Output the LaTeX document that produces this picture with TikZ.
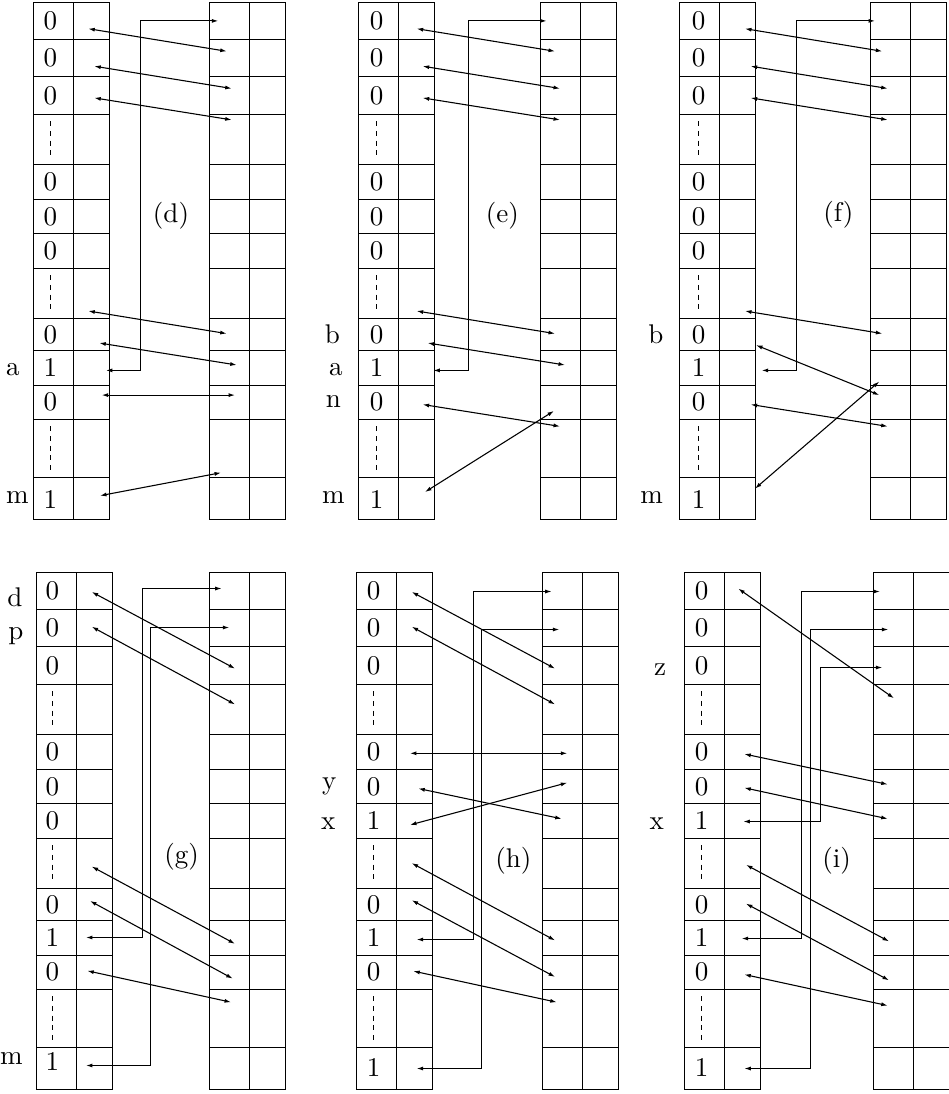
\documentclass[tikz,border=0pt]{standalone}
\usepackage{tikz}
\usetikzlibrary{arrows.meta}

% one table of two columns, left edge at #1, rows measured down from the top
\newcommand{\slotgrid}[1]{%
  \draw[cellline] (#1,0) rectangle ({#1+76},517);
  \draw[cellline] ({#1+40},0) -- ({#1+40},517);
  \foreach \r in {37,74,111.5,162,196.5,231,265.5,315.5,348,382.5,416.5,475}
    \draw[cellline] (#1,\r) -- ({#1+76},\r);
}
% the bits of the first column: #1 prefix, #2 x of the bits,
% #3 bit in the seventh row, #4 y of the last bit
\newcommand{\bitcol}[4]{%
  \foreach \n/\y/\b in {1/18.5/0,2/55.5/0,3/92.75/0,5/179.25/0,6/213.75/0,
                        9/331.75/0,10/365.25/1,11/399.5/0}
    \node[bit] (#1\n) at (#2,\y) {\b};
  \node[bit] (#1 7) at (#2,248.25) {#3};
  \node[bit] (#1 13) at (#2,#4) {1};
  \foreach \a/\b in {118.5/156,272.5/309.5,423.5/469}
    \draw[dotline] (#2,\a) -- (#2,\b);
}

\begin{document}
\begin{tikzpicture}[
  x=0.37pt, y=-0.37pt,
  cellline/.style={line width=0.45pt},
  dotline/.style={line width=0.35pt, dash pattern=on 1.8pt off 1.8pt},
  bit/.style={inner sep=0pt},
  side/.style={inner sep=0pt},
  wire/.style={{Latex[length=2.4pt,width=1.5pt]}-{Latex[length=2.4pt,width=1.5pt]}, line width=0.4pt}
]
\useasboundingbox (0,0) rectangle (949,1094);

% ── TOP ROW ───────────────────────────────────────────────────────────────────
\begin{scope}[shift={(0,2.7)}]

% (d)
\slotgrid{33.5} \slotgrid{209.5}
\bitcol{d}{50.5}{0}{497}
\node[side] (da) at (13,367) {a};
\node[side] (dm) at (17.5,495.3) {m};
\node (dname) at (171,213.4) {(d)};

\coordinate (dA1) at (88.3,26);    \coordinate (dB1) at (226.7,48.6);
\coordinate (dA2) at (94.3,63.5);  \coordinate (dB2) at (231.7,85.8);
\coordinate (dA3) at (94.3,95.2);  \coordinate (dB3) at (231.7,117.2);
\coordinate (dA4) at (88.3,308.3); \coordinate (dB4) at (226.7,330.9);
\coordinate (dA5) at (99.3,340.3); \coordinate (dB5) at (236.7,362.3);
\coordinate (dA6) at (101.7,392.4);\coordinate (dB6) at (235,392.4);
\coordinate (dA7) at (100,493);    \coordinate (dB7) at (221,470);
\foreach \i in {1,...,7} \draw[wire] (dA\i) -- (dB\i);

\coordinate (dE1) at (106,367.7); \coordinate (dK1) at (140.5,367.7); \coordinate (dF1) at (218.3,18.2);
\draw[wire] (dE1) -- (dK1) |- (dF1);

% (e)
\slotgrid{358.5} \slotgrid{540.5}
\bitcol{e}{376.5}{0}{497}
\node[side] (eb) at (332.3,331.6) {b};
\node[side] (ea) at (336,367) {a};
\node[side] (en) at (333.3,399.1) {n};
\node[side] (em) at (333.3,495.3) {m};
\node (ename) at (502.3,213.4) {(e)};

\coordinate (eA1) at (416.7,26);    \coordinate (eB1) at (555,48.6);
\coordinate (eA2) at (422.7,63.5);  \coordinate (eB2) at (560,85.8);
\coordinate (eA3) at (422.7,95.2);  \coordinate (eB3) at (560,117.2);
\coordinate (eA4) at (416.7,308.3); \coordinate (eB4) at (555,330.9);
\coordinate (eA5) at (427.7,340.3); \coordinate (eB5) at (565,362.3);
\coordinate (eA6) at (422.7,401.8); \coordinate (eB6) at (560,423.7);
\coordinate (eA7) at (425,489.3);   \coordinate (eB7) at (554,408.2);
\foreach \i in {1,...,7} \draw[wire] (eA\i) -- (eB\i);

\coordinate (eE1) at (433.3,367.7); \coordinate (eK1) at (468.5,367.7); \coordinate (eF1) at (546.7,18.2);
\draw[wire] (eE1) -- (eK1) |- (eF1);

% (f)
\slotgrid{679.5} \slotgrid{870.5}
\bitcol{f}{698.5}{0}{497}
\node[side] (fb) at (656,331.6) {b};
\node[side] (fm) at (651.7,495.3) {m};
\node (fname) at (838.3,211.7) {(f)};

\coordinate (fA1) at (745,26);      \coordinate (fB1) at (882.3,48.6);
\coordinate (fA2) at (750.7,63.5);  \coordinate (fB2) at (887.7,85.8);
\coordinate (fA3) at (750.7,95.2);  \coordinate (fB3) at (887.7,117.2);
\coordinate (fA4) at (745,308.3);   \coordinate (fB4) at (882.3,330.9);
\coordinate (fA5) at (756,342.4);   \coordinate (fB5) at (879.3,392.4);
\coordinate (fA6) at (750.7,401.8); \coordinate (fB6) at (887.7,423.7);
\coordinate (fA7) at (755,485.9);   \coordinate (fB7) at (879.3,378.8);
\foreach \i in {1,...,7} \draw[wire] (fA\i) -- (fB\i);

\coordinate (fE1) at (761.7,367.7); \coordinate (fK1) at (796.5,367.7); \coordinate (fF1) at (875,18.2);
\draw[wire] (fE1) -- (fK1) |- (fF1);

\end{scope}

% ── BOTTOM ROW ────────────────────────────────────────────────────────────────
\begin{scope}[shift={(0,572.7)}]

% (g)
\slotgrid{36.5} \slotgrid{209.5}
\bitcol{g}{52.5}{0}{489}
\node[side] (gd) at (15,24.3) {d};
\node[side] (gp) at (16,63.1) {p};
\node[side] (gm) at (11.5,486) {m};
\node (gname) at (181.7,284.3) {(g)};

\coordinate (gA1) at (91.7,19.2);  \coordinate (gB1) at (235,95.9);
\coordinate (gA2) at (91.7,54);    \coordinate (gB2) at (235,131.7);
\coordinate (gA3) at (91.7,293.8); \coordinate (gB3) at (235,371.1);
\coordinate (gA4) at (90,328.2);   \coordinate (gB4) at (232.7,405.9);
\coordinate (gA5) at (87.3,398.1); \coordinate (gB5) at (231,429.5);
\foreach \i in {1,...,5} \draw[wire] (gA\i) -- (gB\i);

\coordinate (gE1) at (86,364.8); \coordinate (gK1) at (142.5,364.8); \coordinate (gF1) at (221.7,15.8);
\coordinate (gE2) at (86,492.8); \coordinate (gK2) at (150.5,492.8); \coordinate (gF2) at (229.3,54.8);
\draw[wire] (gE1) -- (gK1) |- (gF1);
\draw[wire] (gE2) -- (gK2) |- (gF2);

% (h)
\slotgrid{356.5} \slotgrid{542.5}
\bitcol{h}{373.5}{1}{495}
\node[side] (hy) at (329.3,213.4) {y};
\node[side] (hx) at (328.3,250.5) {x};
\node (hname) at (513.3,287.7) {(h)};

\coordinate (hA1) at (411.7,19.2);  \coordinate (hB1) at (555,95.9);
\coordinate (hA2) at (411.7,54);    \coordinate (hB2) at (555,131.7);
\coordinate (hA3) at (410,180.6);   \coordinate (hB3) at (567.3,180.6);
\coordinate (hA4) at (418.3,215.8); \coordinate (hB4) at (561.7,246.1);
\coordinate (hA5) at (410,252.2);   \coordinate (hB5) at (567.3,210);
\coordinate (hA6) at (411.7,290.4); \coordinate (hB6) at (555,367.7);
\coordinate (hA7) at (411.7,327.5); \coordinate (hB7) at (555,404.2);
\coordinate (hA8) at (413.3,398.4); \coordinate (hB8) at (556.7,429.5);
\foreach \i in {1,...,8} \draw[wire] (hA\i) -- (hB\i);

\coordinate (hE1) at (416.7,366.8); \coordinate (hK1) at (473.5,366.8); \coordinate (hF1) at (551.7,18.8);
\coordinate (hE2) at (416.7,495.8); \coordinate (hK2) at (481.5,495.8); \coordinate (hF2) at (559.3,56.8);
\draw[wire] (hE1) -- (hK1) |- (hF1);
\draw[wire] (hE2) -- (hK2) |- (hF2);

% (i)
\slotgrid{684.5} \slotgrid{873.5}
\bitcol{i}{701.5}{1}{495}
\node[side] (iz) at (660,96.9) {z};
\node[side] (ix) at (656.7,250.5) {x};
\node (iname) at (836.7,287.7) {(i)};

\coordinate (iA1) at (738.3,15.9);  \coordinate (iB1) at (894,125.6);
\coordinate (iA2) at (744.3,181.3); \coordinate (iB2) at (887.7,211.7);
\coordinate (iA3) at (744.3,215.1); \coordinate (iB3) at (887.7,246.1);
\coordinate (iA4) at (746,292.1);   \coordinate (iB4) at (889,368.7);
\coordinate (iA5) at (746,330.9);   \coordinate (iB5) at (889,407.6);
\coordinate (iA6) at (744.3,401.8); \coordinate (iB6) at (887.7,432.9);
\foreach \i in {1,...,6} \draw[wire] (iA\i) -- (iB\i);

\coordinate (iE1) at (741.7,365.8); \coordinate (iK1) at (801.5,365.8); \coordinate (iF1) at (880,18.8);
\coordinate (iE2) at (744.3,495.8); \coordinate (iK2) at (810.5,495.8); \coordinate (iF2) at (888.3,56.8);
\coordinate (iE3) at (743.3,248.8); \coordinate (iK3) at (820.5,248.8); \coordinate (iF3) at (882.3,94.8);
\draw[wire] (iE1) -- (iK1) |- (iF1);
\draw[wire] (iE2) -- (iK2) |- (iF2);
\draw[wire] (iE3) -- (iK3) |- (iF3);

\end{scope}

\end{tikzpicture}
\end{document}
